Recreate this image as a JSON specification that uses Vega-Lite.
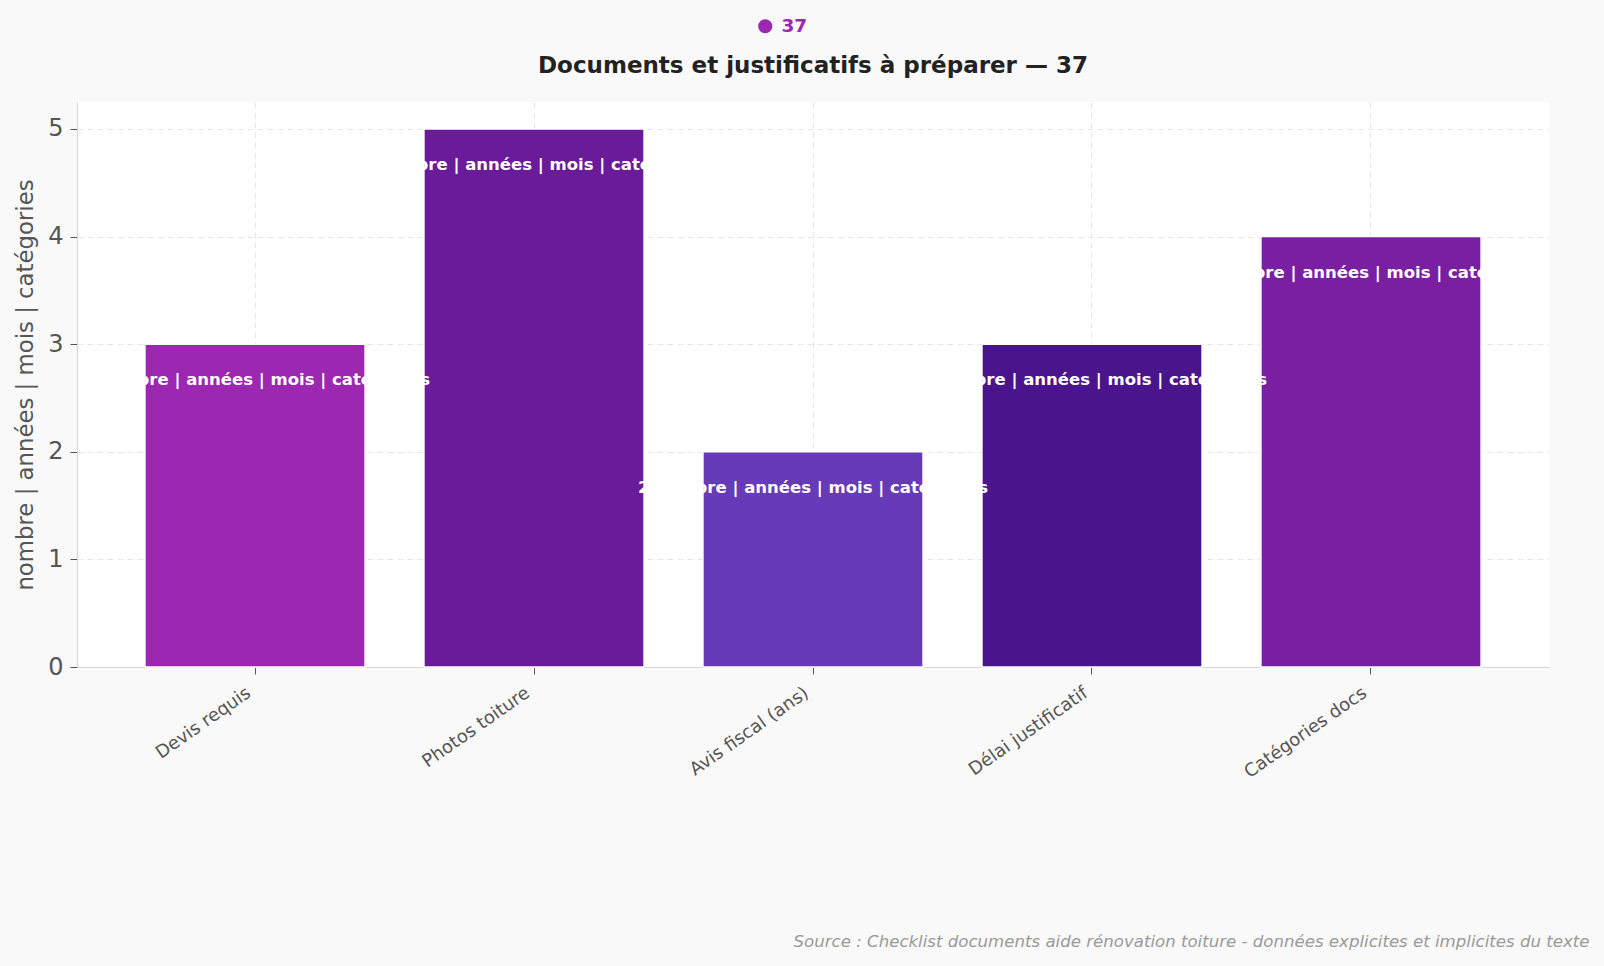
{
  "$schema": "https://vega.github.io/schema/vega-lite/v6.json",
  "width": 1472,
  "height": 565,
  "autosize": {"type": "none"},
  "padding": {"left": 77, "top": 102, "right": 55, "bottom": 299},
  "background": "#f9f9f9",
  "config": {
    "font": "DejaVu Sans",
    "view": {"fill": "#ffffff", "stroke": null}
  },
  "title": {
    "text": "Documents et justificatifs à préparer — 37",
    "anchor": "middle",
    "color": "#222222",
    "fontSize": 23,
    "fontWeight": "bold",
    "offset": -61
  },
  "data": {
    "values": [
      {"categorie": "Devis requis", "valeur": 3},
      {"categorie": "Photos toiture", "valeur": 5},
      {"categorie": "Avis fiscal (ans)", "valeur": 2},
      {"categorie": "Délai justificatif", "valeur": 3},
      {"categorie": "Catégories docs", "valeur": 4}
    ]
  },
  "transform": [
    {"calculate": "datum.valeur + ' nombre | années | mois | catégories'", "as": "etiquette"}
  ],
  "encoding": {
    "x": {
      "field": "categorie",
      "type": "nominal",
      "sort": null,
      "scale": {"paddingInner": 0.211, "paddingOuter": 0.2435},
      "axis": {
        "labelAngle": -35,
        "labelAlign": "right",
        "labelBaseline": "middle",
        "labelFontSize": 18,
        "labelColor": "#555555",
        "labelPadding": 17,
        "labelOffset": -6,
        "tickColor": "#555555",
        "tickSize": 7,
        "domainColor": "#d6d6d6",
        "grid": true,
        "gridColor": "#e6e6e6",
        "gridDash": [6, 4],
        "title": "Source : Checklist documents aide rénovation toiture - données explicites et implicites du texte",
        "titleFontStyle": "italic",
        "titleFontWeight": "normal",
        "titleFontSize": 16.6,
        "titleColor": "#9a9a9a",
        "titleAnchor": "end",
        "titleAlign": "right",
        "titleBaseline": "alphabetic",
        "titleX": 1512,
        "titleY": 279
      }
    },
    "y": {
      "field": "valeur",
      "type": "quantitative",
      "scale": {"domain": [0, 5.25], "nice": false},
      "axis": {
        "values": [0, 1, 2, 3, 4, 5],
        "labelFontSize": 24,
        "labelColor": "#555555",
        "labelPadding": 7,
        "tickColor": "#555555",
        "tickSize": 7,
        "domainColor": "#d6d6d6",
        "gridColor": "#e6e6e6",
        "gridDash": [6, 4],
        "title": "nombre | années | mois | catégories",
        "titleFontSize": 22.8,
        "titleFontWeight": "normal",
        "titleColor": "#555555",
        "titlePadding": 10
      }
    }
  },
  "layer": [
    {
      "mark": {"type": "bar", "stroke": "#ffffff", "strokeWidth": 1.5},
      "encoding": {
        "color": {
          "field": "categorie",
          "type": "nominal",
          "scale": {
            "domain": ["Devis requis", "Photos toiture", "Avis fiscal (ans)", "Délai justificatif", "Catégories docs"],
            "range": ["#9c27b0", "#6a1b9a", "#673ab7", "#4a148c", "#7b1fa2"]
          },
          "legend": null
        }
      }
    },
    {
      "mark": {"type": "point", "filled": true, "opacity": 0, "color": "#9c27b0"},
      "encoding": {
        "shape": {
          "datum": "37",
          "scale": {"range": ["circle"]},
          "legend": {
            "title": null,
            "orient": "none",
            "legendX": 679,
            "legendY": -85,
            "padding": 0,
            "symbolSize": 200,
            "symbolOpacity": 1,
            "symbolFillColor": "#9c27b0",
            "symbolStrokeWidth": 0,
            "labelColor": "#9c27b0",
            "labelFontSize": 18.5,
            "labelFontWeight": "bold",
            "labelOffset": 7
          }
        }
      }
    },
    {
      "mark": {
        "type": "text",
        "color": "#ffffff",
        "fontSize": 16.5,
        "fontWeight": "bold",
        "baseline": "middle",
        "align": "center",
        "dy": 36
      },
      "encoding": {
        "text": {"field": "etiquette", "type": "nominal"}
      }
    }
  ]
}
